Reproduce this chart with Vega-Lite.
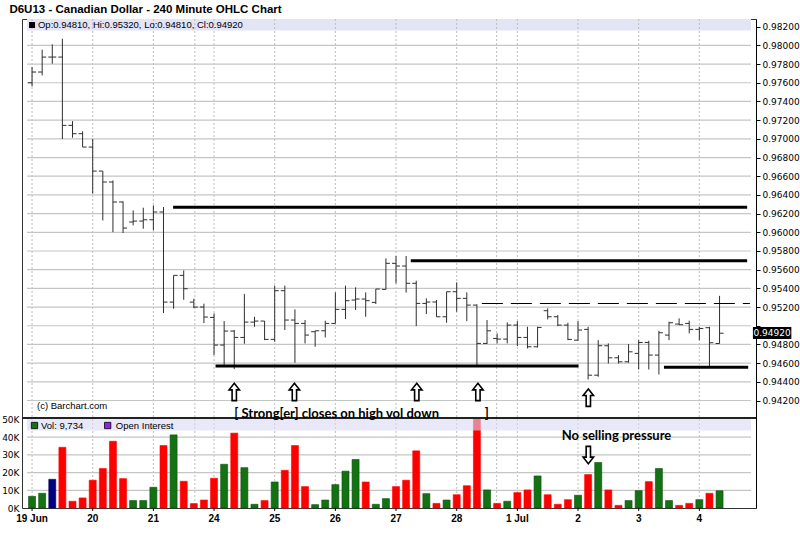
{
  "$schema": "https://vega.github.io/schema/vega-lite/v6.json",
  "autosize": "none",
  "width": 734,
  "height": 489,
  "padding": {"left": 22, "top": 19, "right": 44, "bottom": 36},
  "background": "white",
  "config": {"view": {"stroke": "#333", "strokeWidth": 1}},
  "datasets": {
    "bars": [
      {"i":0,"o":0.97600,"h":0.97768,"l":0.97561,"c":0.97715,"v":6600,"d":"up"},
      {"i":1,"o":0.97715,"h":0.97954,"l":0.97679,"c":0.97875,"v":8300,"d":"up"},
      {"i":2,"o":0.97875,"h":0.98011,"l":0.97804,"c":0.97875,"v":16200,"d":"flat"},
      {"i":3,"o":0.97875,"h":0.98071,"l":0.96998,"c":0.97144,"v":34300,"d":"down"},
      {"i":4,"o":0.97144,"h":0.97190,"l":0.97012,"c":0.97055,"v":3800,"d":"down"},
      {"i":5,"o":0.97055,"h":0.97080,"l":0.96912,"c":0.96912,"v":5700,"d":"down"},
      {"i":6,"o":0.96912,"h":0.96998,"l":0.96413,"c":0.96655,"v":15700,"d":"down"},
      {"i":7,"o":0.96655,"h":0.96655,"l":0.96127,"c":0.96538,"v":22300,"d":"down"},
      {"i":8,"o":0.96538,"h":0.96555,"l":0.96002,"c":0.96324,"v":37700,"d":"down"},
      {"i":9,"o":0.96324,"h":0.96331,"l":0.95992,"c":0.96045,"v":16600,"d":"down"},
      {"i":10,"o":0.96110,"h":0.96234,"l":0.96074,"c":0.96120,"v":4200,"d":"up"},
      {"i":11,"o":0.96120,"h":0.96263,"l":0.96038,"c":0.96134,"v":4200,"d":"up"},
      {"i":12,"o":0.96134,"h":0.96288,"l":0.96020,"c":0.96217,"v":11700,"d":"up"},
      {"i":13,"o":0.96217,"h":0.96270,"l":0.95136,"c":0.95253,"v":35300,"d":"down"},
      {"i":14,"o":0.95253,"h":0.95539,"l":0.95182,"c":0.95539,"v":41300,"d":"up"},
      {"i":15,"o":0.95539,"h":0.95592,"l":0.95278,"c":0.95396,"v":15100,"d":"down"},
      {"i":16,"o":0.95253,"h":0.95289,"l":0.95189,"c":0.95200,"v":2500,"d":"down"},
      {"i":17,"o":0.95200,"h":0.95236,"l":0.95029,"c":0.95093,"v":4500,"d":"down"},
      {"i":18,"o":0.95089,"h":0.95132,"l":0.94686,"c":0.94793,"v":16800,"d":"down"},
      {"i":19,"o":0.94793,"h":0.95050,"l":0.94579,"c":0.94943,"v":24700,"d":"up"},
      {"i":20,"o":0.94943,"h":0.94954,"l":0.94536,"c":0.94875,"v":42300,"d":"down"},
      {"i":21,"o":0.94875,"h":0.95339,"l":0.94807,"c":0.95039,"v":22800,"d":"up"},
      {"i":22,"o":0.95039,"h":0.95096,"l":0.94989,"c":0.95050,"v":2100,"d":"up"},
      {"i":23,"o":0.95050,"h":0.95050,"l":0.94846,"c":0.94854,"v":4200,"d":"down"},
      {"i":24,"o":0.94854,"h":0.95429,"l":0.94829,"c":0.95375,"v":14700,"d":"up"},
      {"i":25,"o":0.95375,"h":0.95429,"l":0.94954,"c":0.95061,"v":21300,"d":"down"},
      {"i":26,"o":0.95061,"h":0.95175,"l":0.94604,"c":0.95025,"v":35300,"d":"down"},
      {"i":27,"o":0.95025,"h":0.95061,"l":0.94811,"c":0.94900,"v":12100,"d":"down"},
      {"i":28,"o":0.94936,"h":0.94946,"l":0.94775,"c":0.94946,"v":1900,"d":"up"},
      {"i":29,"o":0.94946,"h":0.95054,"l":0.94875,"c":0.95025,"v":4500,"d":"up"},
      {"i":30,"o":0.95025,"h":0.95357,"l":0.95025,"c":0.95175,"v":13200,"d":"up"},
      {"i":31,"o":0.95175,"h":0.95429,"l":0.95071,"c":0.95268,"v":20800,"d":"up"},
      {"i":32,"o":0.95275,"h":0.95411,"l":0.95168,"c":0.95286,"v":27400,"d":"up"},
      {"i":33,"o":0.95286,"h":0.95357,"l":0.95096,"c":0.95268,"v":14700,"d":"down"},
      {"i":34,"o":0.95250,"h":0.95393,"l":0.95232,"c":0.95393,"v":2100,"d":"up"},
      {"i":35,"o":0.95389,"h":0.95721,"l":0.95389,"c":0.95668,"v":5300,"d":"up"},
      {"i":36,"o":0.95668,"h":0.95746,"l":0.95454,"c":0.95639,"v":12100,"d":"down"},
      {"i":37,"o":0.95639,"h":0.95746,"l":0.95354,"c":0.95454,"v":15700,"d":"down"},
      {"i":38,"o":0.95454,"h":0.95482,"l":0.94996,"c":0.95239,"v":32300,"d":"down"},
      {"i":39,"o":0.95239,"h":0.95293,"l":0.95125,"c":0.95254,"v":8100,"d":"up"},
      {"i":40,"o":0.95254,"h":0.95275,"l":0.95096,"c":0.95096,"v":2600,"d":"down"},
      {"i":41,"o":0.95096,"h":0.95364,"l":0.95032,"c":0.95364,"v":4500,"d":"up"},
      {"i":42,"o":0.95364,"h":0.95464,"l":0.95150,"c":0.95293,"v":7500,"d":"down"},
      {"i":43,"o":0.95293,"h":0.95357,"l":0.95050,"c":0.95221,"v":12600,"d":"down"},
      {"i":44,"o":0.95221,"h":0.95229,"l":0.94561,"c":0.94811,"v":50500,"d":"down"},
      {"i":45,"o":0.94811,"h":0.95061,"l":0.94804,"c":0.94946,"v":10200,"d":"up"},
      {"i":46,"o":0.94864,"h":0.94918,"l":0.94811,"c":0.94857,"v":2600,"d":"down"},
      {"i":47,"o":0.94857,"h":0.95036,"l":0.94811,"c":0.95007,"v":3800,"d":"up"},
      {"i":48,"o":0.95007,"h":0.95050,"l":0.94782,"c":0.94875,"v":8700,"d":"down"},
      {"i":49,"o":0.94875,"h":0.94989,"l":0.94757,"c":0.94775,"v":10200,"d":"down"},
      {"i":50,"o":0.94775,"h":0.94989,"l":0.94768,"c":0.94982,"v":18100,"d":"up"},
      {"i":51,"o":0.95161,"h":0.95186,"l":0.95068,"c":0.95096,"v":7500,"d":"down"},
      {"i":52,"o":0.95096,"h":0.95114,"l":0.94996,"c":0.95007,"v":2100,"d":"down"},
      {"i":53,"o":0.95007,"h":0.95032,"l":0.94846,"c":0.94854,"v":4700,"d":"down"},
      {"i":54,"o":0.94846,"h":0.95050,"l":0.94839,"c":0.94954,"v":7200,"d":"up"},
      {"i":55,"o":0.94961,"h":0.94989,"l":0.94425,"c":0.94471,"v":18900,"d":"down"},
      {"i":56,"o":0.94471,"h":0.94846,"l":0.94454,"c":0.94786,"v":25700,"d":"up"},
      {"i":57,"o":0.94786,"h":0.94811,"l":0.94596,"c":0.94657,"v":10200,"d":"down"},
      {"i":58,"o":0.94657,"h":0.94686,"l":0.94596,"c":0.94614,"v":1500,"d":"down"},
      {"i":59,"o":0.94614,"h":0.94804,"l":0.94604,"c":0.94721,"v":4200,"d":"up"},
      {"i":60,"o":0.94704,"h":0.94846,"l":0.94532,"c":0.94821,"v":9800,"d":"up"},
      {"i":61,"o":0.94821,"h":0.94839,"l":0.94532,"c":0.94686,"v":14900,"d":"down"},
      {"i":62,"o":0.94686,"h":0.94946,"l":0.94479,"c":0.94925,"v":22300,"d":"up"},
      {"i":63,"o":0.94900,"h":0.95043,"l":0.94846,"c":0.95032,"v":4200,"d":"up"},
      {"i":64,"o":0.95018,"h":0.95079,"l":0.95007,"c":0.95011,"v":1500,"d":"down"},
      {"i":65,"o":0.95025,"h":0.95054,"l":0.94918,"c":0.94961,"v":2600,"d":"down"},
      {"i":66,"o":0.94961,"h":0.94989,"l":0.94846,"c":0.94971,"v":4700,"d":"up"},
      {"i":67,"o":0.94979,"h":0.94989,"l":0.94554,"c":0.94818,"v":8300,"d":"down"},
      {"i":68,"o":0.94810,"h":0.95320,"l":0.94810,"c":0.94920,"v":9734,"d":"up"}
    ],
    "days": [
      {"x": 0, "t": "19 Jun"}, {"x": 6, "t": "20"}, {"x": 12, "t": "21"}, {"x": 18, "t": "24"},
      {"x": 24, "t": "25"}, {"x": 30, "t": "26"}, {"x": 36, "t": "27"}, {"x": 42, "t": "28"},
      {"x": 48, "t": "1 Jul"}, {"x": 54, "t": "2"}, {"x": 60, "t": "3"}, {"x": 66, "t": "4"}
    ]
  },
  "layer": [
    {
      "data": {"values": [{"a": -0.5, "b": 71.11, "p1": 0.982824, "p2": 0.98159}]},
      "mark": {"type": "rect", "color": "#e4e4f7"},
      "encoding": {
        "x": {"field": "a", "type": "quantitative", "axis": null, "scale": {"domain": [-0.5, 71.11], "nice": false, "zero": false}},
        "x2": {"field": "b"},
        "y": {"field": "p1", "type": "quantitative", "axis": null, "scale": {"domain": [0.930497, 0.982824], "nice": false, "zero": false}},
        "y2": {"field": "p2"}
      }
    },
    {
      "data": {"values": [{"w": 16.1}, {"w": 45.95}, {"w": 0}, {"w": 6}, {"w": 12}, {"w": 18}, {"w": 24}, {"w": 30}, {"w": 36}, {"w": 42}, {"w": 48}, {"w": 54}, {"w": 60}, {"w": 66}]},
      "mark": {"type": "rule", "color": "#bdbdbd", "strokeDash": [2,2]},
      "encoding": {"x": {"field": "w", "type": "quantitative", "axis": null, "scale": {"domain": [-0.5, 71.11], "nice": false, "zero": false}}}
    },
    {
      "data": {"values": [
        {"a": -0.5, "b": 71.11, "g": 0.942}, {"a": -0.5, "b": 71.11, "g": 0.944}, {"a": -0.5, "b": 71.11, "g": 0.946},
        {"a": -0.5, "b": 71.11, "g": 0.948}, {"a": -0.5, "b": 71.11, "g": 0.950}, {"a": -0.5, "b": 71.11, "g": 0.952},
        {"a": -0.5, "b": 71.11, "g": 0.954}, {"a": -0.5, "b": 71.11, "g": 0.956}, {"a": -0.5, "b": 71.11, "g": 0.958},
        {"a": -0.5, "b": 71.11, "g": 0.960}, {"a": -0.5, "b": 71.11, "g": 0.962}, {"a": -0.5, "b": 71.11, "g": 0.964},
        {"a": -0.5, "b": 71.11, "g": 0.966}, {"a": -0.5, "b": 71.11, "g": 0.968}, {"a": -0.5, "b": 71.11, "g": 0.970},
        {"a": -0.5, "b": 71.11, "g": 0.972}, {"a": -0.5, "b": 71.11, "g": 0.974}, {"a": -0.5, "b": 71.11, "g": 0.976},
        {"a": -0.5, "b": 71.11, "g": 0.978}, {"a": -0.5, "b": 71.11, "g": 0.980}
      ]},
      "mark": {"type": "rule", "color": "#c2c7c2", "strokeWidth": 1.2},
      "encoding": {
        "x": {"field": "a", "type": "quantitative", "axis": null, "scale": {"domain": [-0.5, 71.11], "nice": false, "zero": false}},
        "x2": {"field": "b"},
        "y": {"field": "g", "type": "quantitative", "axis": null, "scale": {"domain": [0.930497, 0.982824], "nice": false, "zero": false}}
      }
    },
    {
      "data": {"values": [
        {"a": -0.5, "b": 71.11, "g": 10000}, {"a": -0.5, "b": 71.11, "g": 20000},
        {"a": -0.5, "b": 71.11, "g": 30000}, {"a": -0.5, "b": 71.11, "g": 40000}
      ]},
      "mark": {"type": "rule", "color": "#c2c7c2", "strokeWidth": 1.2},
      "encoding": {
        "x": {"field": "a", "type": "quantitative", "axis": null, "scale": {"domain": [-0.5, 71.11], "nice": false, "zero": false}},
        "x2": {"field": "b"},
        "y": {"field": "g", "type": "quantitative", "axis": null, "scale": {"domain": [0, 276271], "nice": false}}
      }
    },
    {
      "data": {"name": "bars"},
      "mark": {"type": "rule", "color": "#2e2e2e", "strokeWidth": 1},
      "encoding": {
        "x": {"field": "i", "type": "quantitative", "axis": null, "scale": {"domain": [-0.5, 71.11], "nice": false, "zero": false}},
        "y": {"field": "l", "type": "quantitative", "scale": {"domain": [0.930497, 0.982824], "nice": false, "zero": false},
          "axis": {"orient": "right", "values": [0.942,0.944,0.946,0.948,0.950,0.952,0.954,0.956,0.958,0.960,0.962,0.964,0.966,0.968,0.970,0.972,0.974,0.976,0.978,0.980,0.982], "labelExpr": "abs(datum.value-0.95)<0.000001 ? '' : format(datum.value, '.5f')", "title": null, "grid": false, "tickSize": 4, "tickColor": "#000", "domain": true, "domainColor": "#000", "labelFont": "DejaVu Sans", "labelFontSize": 9, "labelColor": "#000", "labelPadding": 2, "labelFlush": false, "labelOverlap": false}},
        "y2": {"field": "h"}
      }
    },
    {
      "data": {"name": "bars"},
      "mark": {"type": "rule", "color": "#2e2e2e", "strokeWidth": 1, "xOffset": -4},
      "encoding": {
        "x": {"field": "i", "type": "quantitative", "axis": null, "scale": {"domain": [-0.5, 71.11], "nice": false, "zero": false}},
        "x2": {"field": "i"},
        "y": {"field": "o", "type": "quantitative", "axis": null, "scale": {"domain": [0.930497, 0.982824], "nice": false, "zero": false}}
      }
    },
    {
      "data": {"name": "bars"},
      "mark": {"type": "rule", "color": "#2e2e2e", "strokeWidth": 1, "x2Offset": 4},
      "encoding": {
        "x": {"field": "i", "type": "quantitative", "axis": null, "scale": {"domain": [-0.5, 71.11], "nice": false, "zero": false}},
        "x2": {"field": "i"},
        "y": {"field": "c", "type": "quantitative", "axis": null, "scale": {"domain": [0.930497, 0.982824], "nice": false, "zero": false}}
      }
    },
    {
      "data": {"values": [
        {"a": 13.95, "b": 70.73, "p": 0.96267},
        {"a": 37.46, "b": 70.73, "p": 0.95696},
        {"a": 18.15, "b": 54.05, "p": 0.94569},
        {"a": 62.5, "b": 70.83, "p": 0.94555}
      ]},
      "mark": {"type": "rule", "color": "#000", "strokeWidth": 3},
      "encoding": {
        "x": {"field": "a", "type": "quantitative", "axis": null, "scale": {"domain": [-0.5, 71.11], "nice": false, "zero": false}},
        "x2": {"field": "b"},
        "y": {"field": "p", "type": "quantitative", "axis": null, "scale": {"domain": [0.930497, 0.982824], "nice": false, "zero": false}}
      }
    },
    {
      "data": {"values": [{"a": 44.49, "b": 71.0, "p": 0.95238}]},
      "mark": {"type": "rule", "color": "#000", "strokeWidth": 1, "strokeDash": [21, 8]},
      "encoding": {
        "x": {"field": "a", "type": "quantitative", "axis": null, "scale": {"domain": [-0.5, 71.11], "nice": false, "zero": false}},
        "x2": {"field": "b"},
        "y": {"field": "p", "type": "quantitative", "axis": null, "scale": {"domain": [0.930497, 0.982824], "nice": false, "zero": false}}
      }
    },
    {
      "data": {"name": "bars"},
      "mark": {"type": "bar", "size": 7, "strokeWidth": 0.6},
      "encoding": {
        "x": {"field": "i", "type": "quantitative", "axis": null, "scale": {"domain": [-0.5, 71.11], "nice": false, "zero": false}},
        "y": {"field": "v", "type": "quantitative", "scale": {"domain": [0, 276271], "nice": false},
          "axis": {"orient": "left", "values": [0,10000,20000,30000,40000,50000], "labelExpr": "(datum.value/1000) + 'K'", "title": null, "grid": false, "tickSize": 0, "domain": false, "labelFont": "DejaVu Sans", "labelFontSize": 9, "labelColor": "#000", "labelPadding": 3, "labelFlush": false, "labelOverlap": false}},
        "color": {"field": "d", "type": "nominal", "scale": {"domain": ["up", "down", "flat"], "range": ["#137313", "#ff0000", "#000080"]}, "legend": null},
        "stroke": {"field": "d", "type": "nominal", "scale": {"domain": ["up", "down", "flat"], "range": ["#0b4a0b", "#ff0000", "#000050"]}, "legend": null}
      }
    },
    {
      "data": {"values": [{"a": -0.5, "b": 71.11, "v1": 43785, "v2": 50282}]},
      "mark": {"type": "rect", "color": "#d8d8f4", "opacity": 0.6},
      "encoding": {
        "x": {"field": "a", "type": "quantitative", "axis": null, "scale": {"domain": [-0.5, 71.11], "nice": false, "zero": false}},
        "x2": {"field": "b"},
        "y": {"field": "v1", "type": "quantitative", "axis": null, "scale": {"domain": [0, 276271], "nice": false}},
        "y2": {"field": "v2"}
      }
    },
    {
      "data": {"values": [{"p": 0.94013}]},
      "mark": {"type": "rule", "color": "#222", "strokeWidth": 2},
      "encoding": {
        "y": {"field": "p", "type": "quantitative", "axis": null, "scale": {"domain": [0.930497, 0.982824], "nice": false, "zero": false}}
      }
    },
    {
      "data": {"name": "days"},
      "mark": {"type": "rule", "color": "#000", "strokeWidth": 1},
      "encoding": {
        "x": {"field": "x", "type": "quantitative", "axis": null, "scale": {"domain": [-0.5, 71.11], "nice": false, "zero": false}},
        "y": {"datum": 0.930497, "type": "quantitative", "axis": null, "scale": {"domain": [0.930497, 0.982824], "nice": false, "zero": false}},
        "y2": {"datum": 0.93018}
      }
    },
    {
      "data": {"name": "days"},
      "mark": {"type": "text", "align": "center", "baseline": "middle", "font": "Liberation Sans", "fontWeight": "bold", "fontSize": 10, "color": "#000"},
      "encoding": {
        "x": {"field": "x", "type": "quantitative", "axis": null, "scale": {"domain": [-0.5, 71.11], "nice": false, "zero": false}},
        "y": {"datum": 0.92937, "type": "quantitative", "axis": null, "scale": {"domain": [0.930497, 0.982824], "nice": false, "zero": false}},
        "text": {"field": "t"}
      }
    },
    {
      "data": {"values": [{"x": 0.24, "v": 46610, "k": "g"}, {"x": 7.48, "v": 46610, "k": "p"}]},
      "mark": {"type": "square", "filled": true, "size": 40, "stroke": "#000", "strokeWidth": 0.8, "opacity": 1},
      "encoding": {
        "x": {"field": "x", "type": "quantitative", "axis": null, "scale": {"domain": [-0.5, 71.11], "nice": false, "zero": false}},
        "y": {"field": "v", "type": "quantitative", "axis": null, "scale": {"domain": [0, 276271], "nice": false}},
        "fill": {"field": "k", "type": "nominal", "scale": {"domain": ["g", "p"], "range": ["#137313", "#9b1fe0"]}, "legend": null}
      }
    },
    {
      "data": {"values": [{"x": 0.88, "v": 46610, "t": "Vol: 9,734"}, {"x": 8.29, "v": 46610, "t": "Open Interest"}]},
      "mark": {"type": "text", "align": "left", "baseline": "middle", "font": "Liberation Sans", "fontSize": 9.5, "color": "#000"},
      "encoding": {
        "x": {"field": "x", "type": "quantitative", "axis": null, "scale": {"domain": [-0.5, 71.11], "nice": false, "zero": false}},
        "y": {"field": "v", "type": "quantitative", "axis": null, "scale": {"domain": [0, 276271], "nice": false}},
        "text": {"field": "t"}
      }
    },
    {
      "data": {"values": [
        {"x": 20.0, "p": 0.94291},
        {"x": 25.95, "p": 0.94291},
        {"x": 38.05, "p": 0.94291},
        {"x": 44.1, "p": 0.94291},
        {"x": 55.02, "p": 0.94230}
      ]},
      "mark": {"type": "point", "shape": "M0,-1 L0.6,-0.25 L0.25,-0.25 L0.25,1 L-0.25,1 L-0.25,-0.25 L-0.6,-0.25 Z", "filled": true, "fill": "white", "stroke": "#000", "strokeWidth": 1.6, "size": 300, "opacity": 1},
      "encoding": {
        "x": {"field": "x", "type": "quantitative", "axis": null, "scale": {"domain": [-0.5, 71.11], "nice": false, "zero": false}},
        "y": {"field": "p", "type": "quantitative", "axis": null, "scale": {"domain": [0.930497, 0.982824], "nice": false, "zero": false}}
      }
    },
    {
      "data": {"values": [{"x": 55.02, "p": 0.93617}]},
      "mark": {"type": "point", "shape": "M0,1 L0.6,0.25 L0.25,0.25 L0.25,-1 L-0.25,-1 L-0.25,0.25 L-0.6,0.25 Z", "filled": true, "fill": "white", "stroke": "#000", "strokeWidth": 1.6, "size": 300, "opacity": 1},
      "encoding": {
        "x": {"field": "x", "type": "quantitative", "axis": null, "scale": {"domain": [-0.5, 71.11], "nice": false, "zero": false}},
        "y": {"field": "p", "type": "quantitative", "axis": null, "scale": {"domain": [0.930497, 0.982824], "nice": false, "zero": false}}
      }
    },
    {
      "data": {"values": [
        {"x": 20.0, "p": 0.94056, "t": "[  Strong[er] closes on high vol down"},
        {"x": 44.78, "p": 0.94056, "t": "]"},
        {"x": 52.39, "p": 0.93820, "t": "No selling pressure"}
      ]},
      "mark": {"type": "text", "align": "left", "baseline": "middle", "font": "Lato", "fontWeight": "bold", "fontSize": 13, "color": "#000"},
      "encoding": {
        "x": {"field": "x", "type": "quantitative", "axis": null, "scale": {"domain": [-0.5, 71.11], "nice": false, "zero": false}},
        "y": {"field": "p", "type": "quantitative", "axis": null, "scale": {"domain": [0.930497, 0.982824], "nice": false, "zero": false}},
        "text": {"field": "t"}
      }
    },
    {
      "data": {"values": [
        {"x": 0.49, "p": 0.94141, "t": "(c) Barchart.com"},
        {"x": 0.585, "p": 0.98218, "t": "Op:0.94810, Hi:0.95320, Lo:0.94810, Cl:0.94920"}
      ]},
      "mark": {"type": "text", "align": "left", "baseline": "middle", "font": "Liberation Sans", "fontSize": 9.5, "color": "#000"},
      "encoding": {
        "x": {"field": "x", "type": "quantitative", "axis": null, "scale": {"domain": [-0.5, 71.11], "nice": false, "zero": false}},
        "y": {"field": "p", "type": "quantitative", "axis": null, "scale": {"domain": [0.930497, 0.982824], "nice": false, "zero": false}},
        "text": {"field": "t"}
      }
    },
    {
      "data": {"values": [{"x": -2.24, "p": 0.98384, "t": "D6U13 - Canadian Dollar - 240 Minute OHLC Chart"}]},
      "mark": {"type": "text", "align": "left", "baseline": "middle", "font": "Liberation Sans", "fontWeight": "bold", "fontSize": 11.5, "color": "#000"},
      "encoding": {
        "x": {"field": "x", "type": "quantitative", "axis": null, "scale": {"domain": [-0.5, 71.11], "nice": false, "zero": false}},
        "y": {"field": "p", "type": "quantitative", "axis": null, "scale": {"domain": [0.930497, 0.982824], "nice": false, "zero": false}},
        "text": {"field": "t"}
      }
    },
    {
      "data": {"values": [{"x": 0.0, "p": 0.98218}]},
      "mark": {"type": "square", "filled": true, "color": "#000", "size": 36, "opacity": 1},
      "encoding": {
        "x": {"field": "x", "type": "quantitative", "axis": null, "scale": {"domain": [-0.5, 71.11], "nice": false, "zero": false}},
        "y": {"field": "p", "type": "quantitative", "axis": null, "scale": {"domain": [0.930497, 0.982824], "nice": false, "zero": false}}
      }
    },
    {
      "data": {"values": [{"a": 71.3, "b": 75.1, "p1": 0.94858, "p2": 0.94987}]},
      "mark": {"type": "rect", "color": "#000"},
      "encoding": {
        "x": {"field": "a", "type": "quantitative", "axis": null, "scale": {"domain": [-0.5, 71.11], "nice": false, "zero": false}},
        "x2": {"field": "b"},
        "y": {"field": "p1", "type": "quantitative", "axis": null, "scale": {"domain": [0.930497, 0.982824], "nice": false, "zero": false}},
        "y2": {"field": "p2"}
      }
    },
    {
      "data": {"values": [{"x": 73.2, "p": 0.9492, "t": "0.94920"}]},
      "mark": {"type": "text", "align": "center", "baseline": "middle", "font": "DejaVu Sans", "fontSize": 9, "color": "#fff"},
      "encoding": {
        "x": {"field": "x", "type": "quantitative", "axis": null, "scale": {"domain": [-0.5, 71.11], "nice": false, "zero": false}},
        "y": {"field": "p", "type": "quantitative", "axis": null, "scale": {"domain": [0.930497, 0.982824], "nice": false, "zero": false}},
        "text": {"field": "t"}
      }
    }
  ],
  "resolve": {"scale": {"y": "independent"}, "axis": {"y": "independent"}}
}
